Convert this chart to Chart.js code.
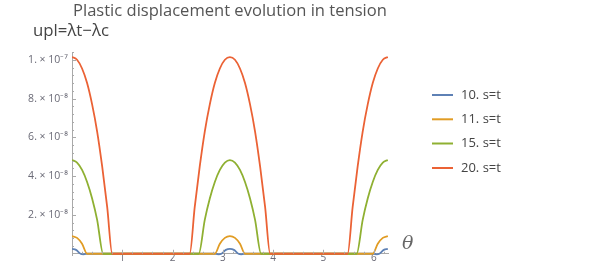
<!DOCTYPE html>
<html>
<head>
<meta charset="utf-8">
<script src="https://cdn.jsdelivr.net/npm/chart.js@4.4.0/dist/chart.umd.min.js"></script>
<style>
html, body { margin: 0; padding: 0; background: #fff; }
</style>
</head>
<body>
<canvas id="plasticChart" width="608" height="266"></canvas>
<script>
// series (theta in rad, upl in m)
var seriesNames = ["10. s=t", "11. s=t", "15. s=t", "20. s=t"];
var seriesColors = ["#5E81B5", "#E19C24", "#8FB032", "#EB6235"];

var blueTheta = [0, 0.08, 0.17, 0.22, 0.28, 2.86, 2.92, 2.97, 3.06, 3.14, 3.22, 3.31, 3.36, 3.42, 6.00, 6.06, 6.11, 6.20, 6.28];
var blueVals = [0.25e-8, 0.20e-8, 0, -0.03e-8, 0, 0, -0.03e-8, 0, 0.20e-8, 0.25e-8, 0.20e-8, 0, -0.03e-8, 0, 0, -0.03e-8, 0, 0.20e-8, 0.25e-8];

var orangeTheta = [0, 0.1, 0.2, 0.3, 2.84, 2.94, 3.04, 3.14, 3.24, 3.34, 3.44, 5.98, 6.08, 6.18, 6.28];
var orangeVals = [0.91e-8, 0.82e-8, 0.52e-8, 0, 0, 0.52e-8, 0.82e-8, 0.91e-8, 0.82e-8, 0.52e-8, 0, 0, 0.52e-8, 0.82e-8, 0.91e-8];

var greenTheta = [0, 0.1, 0.2, 0.3, 0.4, 0.5, 0.62, 2.52, 2.64, 2.74, 2.84, 2.94, 3.04, 3.14, 3.24, 3.34, 3.44, 3.54, 3.64, 3.76, 5.66, 5.78, 5.88, 5.98, 6.08, 6.18, 6.28];
var greenVals = [4.83e-8, 4.70e-8, 4.32e-8, 3.70e-8, 2.85e-8, 1.75e-8, 0, 0, 1.75e-8, 2.85e-8, 3.70e-8, 4.32e-8, 4.70e-8, 4.83e-8, 4.70e-8, 4.32e-8, 3.70e-8, 2.85e-8, 1.75e-8, 0, 0, 1.75e-8, 2.85e-8, 3.70e-8, 4.32e-8, 4.70e-8, 4.83e-8];

var redTheta = [0, 0.1, 0.2, 0.3, 0.4, 0.5, 0.6, 0.7, 0.8, 2.34, 2.44, 2.54, 2.64, 2.74, 2.84, 2.94, 3.04, 3.14, 3.24, 3.34, 3.44, 3.54, 3.64, 3.74, 3.84, 3.94, 5.48, 5.58, 5.68, 5.78, 5.88, 5.98, 6.08, 6.18, 6.28];
var redVals = [10.14e-8, 10.0e-8, 9.55e-8, 8.8e-8, 7.7e-8, 6.3e-8, 4.5e-8, 2.4e-8, 0, 0, 2.4e-8, 4.5e-8, 6.3e-8, 7.7e-8, 8.8e-8, 9.55e-8, 10.0e-8, 10.14e-8, 10.0e-8, 9.55e-8, 8.8e-8, 7.7e-8, 6.3e-8, 4.5e-8, 2.4e-8, 0, 0, 2.4e-8, 4.5e-8, 6.3e-8, 7.7e-8, 8.8e-8, 9.55e-8, 10.0e-8, 10.14e-8];

var xTicks = [1, 2, 3, 4, 5, 6];
var xTickLabels = ["1", "2", "3", "4", "5", "6"];
var xMinorTicks = [0.2, 0.4, 0.6, 0.8, 1.2, 1.4, 1.6, 1.8, 2.2, 2.4, 2.6, 2.8, 3.2, 3.4, 3.6, 3.8, 4.2, 4.4, 4.6, 4.8, 5.2, 5.4, 5.6, 5.8, 6.2];
var yTicks = [2e-8, 4e-8, 6e-8, 8e-8, 1e-7];
var yTickLabels = ["2. \u00d7 10\u207b\u2078", "4. \u00d7 10\u207b\u2078", "6. \u00d7 10\u207b\u2078", "8. \u00d7 10\u207b\u2078", "1. \u00d7 10\u207b\u2077"];
var yMinorTicks = [0.4e-8, 0.8e-8, 1.2e-8, 1.6e-8, 2.4e-8, 2.8e-8, 3.2e-8, 3.6e-8, 4.4e-8, 4.8e-8, 5.2e-8, 5.6e-8, 6.4e-8, 6.8e-8, 7.2e-8, 7.6e-8, 8.4e-8, 8.8e-8, 9.2e-8, 9.6e-8, 10.4e-8];

var thetaSets = [blueTheta, orangeTheta, greenTheta, redTheta];
var valSets = [blueVals, orangeVals, greenVals, redVals];

function toPoints(ts, vs) {
    return ts.map(function (t, i) { return { x: t, y: vs[i] }; });
}

var axisGray = "#a9a9a9";
var labelGray = "#6a6a76";

// ticks point inward like Mathematica, plus the loose texts
var decorations = {
    id: "decorations",
    afterDraw: function (chart) {
        var ctx = chart.ctx;
        var xs = chart.scales.x;
        var ys = chart.scales.y;
        var y0 = ys.getPixelForValue(0);
        var x0 = xs.getPixelForValue(0);
        ctx.save();
        ctx.strokeStyle = axisGray;
        ctx.lineWidth = 1;
        ctx.beginPath();
        xTicks.forEach(function (v) {
            var px = Math.round(xs.getPixelForValue(v)) + 0.5;
            ctx.moveTo(px, y0); ctx.lineTo(px, y0 - 4);
        });
        xMinorTicks.forEach(function (v) {
            var px = Math.round(xs.getPixelForValue(v)) + 0.5;
            ctx.moveTo(px, y0); ctx.lineTo(px, y0 - 2);
        });
        yTicks.forEach(function (v) {
            var py = Math.round(ys.getPixelForValue(v)) + 0.5;
            ctx.moveTo(x0, py); ctx.lineTo(x0 + 4, py);
        });
        yMinorTicks.forEach(function (v) {
            var py = Math.round(ys.getPixelForValue(v)) + 0.5;
            ctx.moveTo(x0, py); ctx.lineTo(x0 + 2, py);
        });
        ctx.stroke();

        // title and axis labels, fitted to the widths seen in the picture
        function fitText(txt, family, style, target, base) {
            ctx.font = style + base + "px " + family;
            var w = ctx.measureText(txt).width;
            var size = base * target / w;
            ctx.font = style + size.toFixed(2) + "px " + family;
        }
        ctx.textBaseline = "middle";
        ctx.textAlign = "left";
        ctx.fillStyle = "#555555";
        fitText("Plastic displacement evolution in tension", "'Open Sans'", "", 314, 17);
        ctx.fillText("Plastic displacement evolution in tension", 73, 11);
        ctx.fillStyle = "#444444";
        fitText("upl=\u03bbt\u2212\u03bbc", "'Open Sans'", "", 76, 15);
        ctx.fillText("upl=\u03bbt\u2212\u03bbc", 33, 31);
        ctx.fillStyle = "#666666";
        ctx.font = "italic 19px 'DejaVu Serif'";
        ctx.fillText("\u03b8", 402, 244);

        // legend
        var legendY = [95, 119.3, 143.5, 168];
        ctx.font = "13px 'Open Sans'";
        seriesNames.forEach(function (name, i) {
            ctx.strokeStyle = seriesColors[i];
            ctx.lineWidth = 2;
            ctx.beginPath();
            ctx.moveTo(432, legendY[i]); ctx.lineTo(453, legendY[i]);
            ctx.stroke();
            ctx.fillStyle = "#444444";
            ctx.fillText(name, 461, legendY[i]);
        });
        ctx.restore();
    },
};

var plastic = document.getElementById("plasticChart").getContext("2d");

var plasticChart = new Chart(plastic, {
    type: "line",
    data: {
        datasets: seriesNames.map(function (name, i) {
            return {
                label: name,
                data: toPoints(thetaSets[i], valSets[i]),
                borderColor: seriesColors[i],
                backgroundColor: seriesColors[i],
                borderWidth: 1.8,
                pointRadius: 0,
                cubicInterpolationMode: "monotone",
                fill: false,
                order: 4 - i,
            };
        }),
    },
    options: {
        responsive: false,
        animation: false,
        devicePixelRatio: 1,
        layout: {
            padding: { left: 12, right: 220, top: 52, bottom: 0 },
        },
        plugins: {
            legend: { display: false },
            title: { display: false },
            tooltip: { enabled: false },
        },
        scales: {
            x: {
                type: "linear",
                position: { y: 0 },
                min: 0,
                max: 6.2832,
                afterBuildTicks: function (scale) {
                    scale.ticks = xTicks.map(function (v) { return { value: v }; });
                },
                afterFit: function (scale) { scale.height = 17.4; },
                grid: { display: false, drawTicks: false },
                border: { display: true, color: axisGray, width: 1 },
                ticks: {
                    padding: -2,
                    color: labelGray,
                    font: { family: "'Open Sans'", size: 10 },
                    maxRotation: 0,
                    autoSkip: false,
                    callback: function (value, index) { return xTickLabels[index]; },
                },
            },
            y: {
                type: "linear",
                min: -0.1e-8,
                max: 10.4e-8,
                afterBuildTicks: function (scale) {
                    scale.ticks = yTicks.map(function (v) { return { value: v }; });
                },
                afterFit: function (scale) { scale.width = 60; },
                grid: { display: false, drawTicks: false },
                border: { display: true, color: axisGray, width: 1 },
                ticks: {
                    padding: 4,
                    color: labelGray,
                    font: { family: "'Open Sans'", size: 10.5 },
                    autoSkip: false,
                    callback: function (value, index) { return yTickLabels[index]; },
                },
            },
        },
    },
    plugins: [decorations],
});
</script>
</body>
</html>
